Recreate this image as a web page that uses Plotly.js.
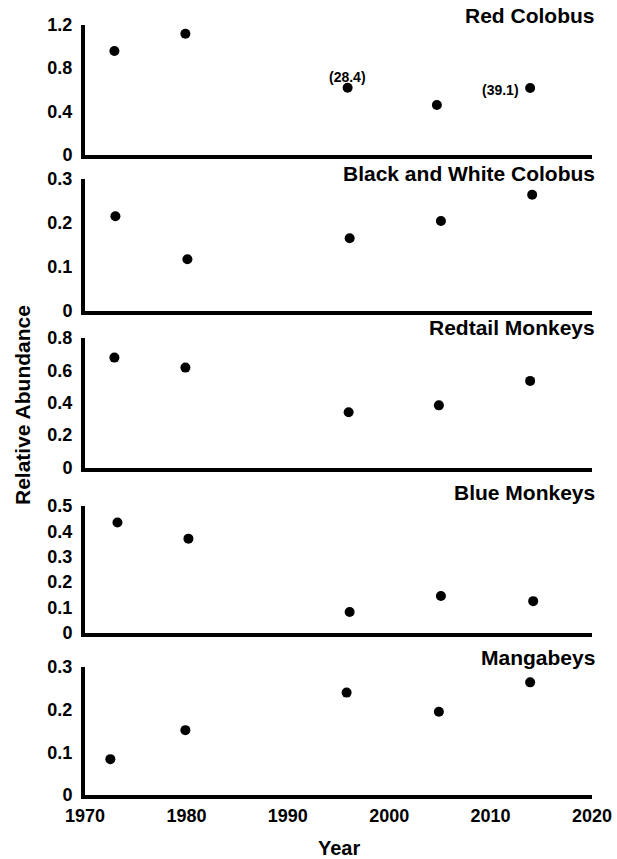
<!DOCTYPE html>
<html>
<head>
<meta charset="utf-8">
<script src="https://cdn.plot.ly/plotly-3.0.1.min.js"></script>
<style>html,body{margin:0;padding:0;background:#fff;}#chart{width:617px;height:859px;}</style>
</head>
<body>
<div id="chart"></div>
<script>
// ---- data ----
const panelTitles = ["Red Colobus", "Black and White Colobus", "Redtail Monkeys", "Blue Monkeys", "Mangabeys"];

const redColobusYears = [1972.9, 1979.9, 1995.9, 2004.7, 2013.9];
const redColobusValues = [0.956, 1.115, 0.619, 0.46, 0.616];

const bwColobusYears = [1973.0, 1980.1, 1996.1, 2005.1, 2014.1];
const bwColobusValues = [0.215, 0.117, 0.165, 0.204, 0.264];

const redtailYears = [1972.9, 1979.9, 1996.0, 2004.9, 2013.9];
const redtailValues = [0.679, 0.617, 0.341, 0.384, 0.535];

const blueYears = [1973.2, 1980.2, 1996.1, 2005.1, 2014.2];
const blueValues = [0.435, 0.371, 0.081, 0.144, 0.124];

const mangabeyYears = [1972.5, 1979.9, 1995.8, 2004.9, 2013.9];
const mangabeyValues = [0.084, 0.152, 0.24, 0.195, 0.264];

const redColobusTicks = [0, 0.4, 0.8, 1.2];
const bwColobusTicks = [0, 0.1, 0.2, 0.3];
const redtailTicks = [0, 0.2, 0.4, 0.6, 0.8];
const blueTicks = [0, 0.1, 0.2, 0.3, 0.4, 0.5];
const mangabeyTicks = [0, 0.1, 0.2, 0.3];

const yearTicks = [1970, 1980, 1990, 2000, 2010, 2020];

const redColobusNotes = ["(28.4)", "(39.1)"];   // labels on 3rd and 5th red colobus points
// ---------------------------------------

const FONT = "Liberation Sans, Arial, sans-serif";
const H = 859;
const L = 85, R = 25, PW = 617 - L - R;
const panels = [
  {x: redColobusYears, y: redColobusValues, ticks: redColobusTicks, dom: [155, 24.5], titleY: 16},
  {x: bwColobusYears, y: bwColobusValues, ticks: bwColobusTicks, dom: [310.5, 179], titleY: 173},
  {x: redtailYears, y: redtailValues, ticks: redtailTicks, dom: [467.5, 338], titleY: 328},
  {x: blueYears, y: blueValues, ticks: blueTicks, dom: [632.5, 506], titleY: 492.7},
  {x: mangabeyYears, y: mangabeyValues, ticks: mangabeyTicks, dom: [795, 667], titleY: 657}
];

const bold = s => "<b>" + s + "</b>";

const data = [];
const layout = {
  width: 617, height: 859,
  margin: {l: L, r: R, t: 0, b: 0},
  paper_bgcolor: "#fff", plot_bgcolor: "#fff",
  showlegend: false,
  font: {family: FONT, color: "#000"},
  annotations: []
};

panels.forEach((p, i) => {
  const n = i + 1;
  const xa = "x" + (n === 1 ? "" : n), ya = "y" + (n === 1 ? "" : n);
  data.push({
    type: "scatter", mode: "markers", x: p.x, y: p.y,
    xaxis: xa, yaxis: ya,
    marker: {color: "#000", size: 10},
    hoverinfo: "skip"
  });
  const ymax = p.ticks[p.ticks.length - 1];
  layout["xaxis" + (n === 1 ? "" : n)] = {
    domain: [0, 1], anchor: ya, range: [1970, 2020],
    showline: true, linewidth: 4, linecolor: "#000",
    showgrid: false, zeroline: false,
    ticks: "", tickmode: "array", tickvals: yearTicks,
    ticktext: yearTicks.map(v => bold(String(v))),
    showticklabels: n === 5,
    ticklabelstandoff: 1,
    tickfont: {family: FONT, size: 18, color: "#000"}
  };
  layout["yaxis" + (n === 1 ? "" : n)] = {
    domain: [1 - p.dom[0] / H, 1 - p.dom[1] / H], anchor: xa,
    range: [0, ymax],
    showline: true, linewidth: 4, linecolor: "#000",
    showgrid: false, zeroline: false,
    ticks: "", tickmode: "array", tickvals: p.ticks,
    ticktext: p.ticks.map(v => bold(String(v))),
    ticklabelstandoff: 5,
    tickfont: {family: FONT, size: 18, color: "#000"}
  };
  layout.annotations.push({
    xref: "paper", yref: "paper", x: 1, y: 1 - p.titleY / H,
    xanchor: "right", yanchor: "middle", xshift: 5,
    text: bold(panelTitles[i]), showarrow: false,
    font: {family: FONT, size: 21, color: "#000"}
  });
});

// notes on the red colobus panel
layout.annotations.push({
  xref: "x", yref: "y", x: redColobusYears[2], y: redColobusValues[2],
  xanchor: "center", yanchor: "middle", yshift: 11,
  text: bold(redColobusNotes[0]), showarrow: false,
  font: {family: FONT, size: 14, color: "#000"}
});
layout.annotations.push({
  xref: "x", yref: "y", x: redColobusYears[4], y: redColobusValues[4],
  xanchor: "right", yanchor: "middle", xshift: -9, yshift: -2,
  text: bold(redColobusNotes[1]), showarrow: false,
  font: {family: FONT, size: 14, color: "#000"}
});

// axis titles
layout.annotations.push({
  xref: "paper", yref: "paper", x: (22 - L) / PW, y: 1 - 405 / H,
  xanchor: "center", yanchor: "middle", textangle: -90,
  text: bold("Relative Abundance"), showarrow: false,
  font: {family: FONT, size: 21, color: "#000"}
});
layout.annotations.push({
  xref: "paper", yref: "paper", x: 0.5, y: 1 - 848 / H,
  xanchor: "center", yanchor: "middle",
  text: bold("Year"), showarrow: false,
  font: {family: FONT, size: 20, color: "#000"}
});

Plotly.newPlot("chart", data, layout, {staticPlot: true, displayModeBar: false});
</script>
</body>
</html>
